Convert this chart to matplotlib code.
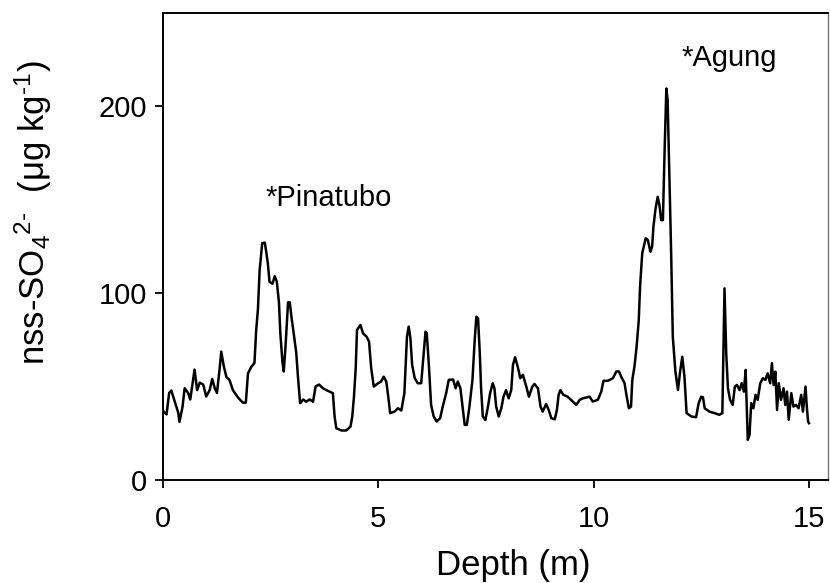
import matplotlib
matplotlib.use("Agg")
import matplotlib.pyplot as plt

plt.rcParams['font.family'] = ['Liberation Sans', 'DejaVu Sans']
plt.rcParams['mathtext.fontset'] = 'custom'
plt.rcParams['mathtext.rm'] = 'Liberation Sans'
plt.rcParams['mathtext.it'] = 'Liberation Sans:italic'

# depth (m)
depth = [0.00, 0.02, 0.09, 0.15, 0.20, 0.28, 0.36, 0.39, 0.46, 0.51, 0.59, 0.64, 0.70, 0.74, 0.80,
         0.86, 0.94, 1.01, 1.09, 1.15, 1.21, 1.26, 1.32, 1.36, 1.42, 1.48, 1.55, 1.63, 1.75, 1.86,
         1.93, 1.98, 2.06, 2.13, 2.17, 2.21, 2.25, 2.31, 2.37, 2.41, 2.44, 2.48, 2.55, 2.60, 2.65,
         2.70, 2.73, 2.78, 2.81, 2.85, 2.91, 2.95, 2.99, 3.04, 3.10, 3.14, 3.19, 3.26, 3.33, 3.41,
         3.49, 3.55, 3.63, 3.72, 3.80, 3.95, 3.99, 4.03, 4.15, 4.26, 4.36, 4.40, 4.44, 4.48, 4.51,
         4.59, 4.65, 4.73, 4.79, 4.84, 4.90, 5.00, 5.07, 5.13, 5.19, 5.23, 5.28, 5.38, 5.46, 5.54,
         5.61, 5.67, 5.71, 5.75, 5.79, 5.85, 5.92, 6.00, 6.06, 6.10, 6.13, 6.18, 6.23, 6.29, 6.36,
         6.44, 6.50, 6.58, 6.64, 6.74, 6.80, 6.85, 6.91, 6.97, 7.01, 7.06, 7.12, 7.19, 7.24, 7.28,
         7.32, 7.36, 7.39, 7.43, 7.49, 7.55, 7.60, 7.66, 7.70, 7.74, 7.80, 7.86, 7.91, 7.97, 8.03,
         8.09, 8.13, 8.18, 8.24, 8.30, 8.36, 8.44, 8.50, 8.58, 8.63, 8.71, 8.77, 8.82, 8.90, 8.96,
         9.02, 9.10, 9.15, 9.19, 9.23, 9.30, 9.40, 9.52, 9.60, 9.68, 9.75, 9.91, 9.98, 10.10, 10.18,
         10.23, 10.33, 10.45, 10.53, 10.59, 10.64, 10.72, 10.77, 10.82, 10.87, 10.90, 10.95, 11.00,
         11.05, 11.08, 11.13, 11.21, 11.26, 11.32, 11.36, 11.39, 11.44, 11.49, 11.53, 11.57, 11.61,
         11.65, 11.69, 11.72, 11.76, 11.80, 11.84, 11.90, 11.96, 12.01, 12.06, 12.11, 12.16, 12.27,
         12.38, 12.44, 12.50, 12.54, 12.58, 12.69, 12.81, 12.92, 12.99, 13.02, 13.04, 13.08, 13.12,
         13.17, 13.23, 13.28, 13.33, 13.39, 13.44, 13.49, 13.53, 13.56, 13.58, 13.62, 13.66, 13.71,
         13.76, 13.81, 13.87, 13.93, 13.99, 14.04, 14.10, 14.14, 14.18, 14.22, 14.26, 14.30, 14.35,
         14.41, 14.45, 14.49, 14.53, 14.59, 14.64, 14.70, 14.76, 14.82, 14.86, 14.92, 14.95, 14.98,
         15.00]

# nss-SO4 2- (ug/kg)
so4 = [38, 36.5, 35, 46.5, 47.8, 41.9, 36, 31, 39, 49, 46.5, 43, 52.6, 59, 48,
       52, 51, 44.6, 48, 54, 49, 46.5, 59, 68.6, 60.6, 55, 53.5, 48, 44, 41.3,
       41.3, 57, 60.6, 62.5, 80, 91, 112, 126.7, 127, 121, 116, 106, 105, 109, 106,
       94.6, 78.6, 63, 58, 71, 95, 95, 87, 78.6, 68, 55, 41, 43, 41.8, 43,
       41.8, 50, 51, 49, 48, 46.4, 33.9, 27.6, 26.4, 26.4, 28.5, 33.9, 44.5, 59.7, 80.2,
       82.9, 78.4, 76.7, 74, 59.7, 49.9, 51.7, 52.6, 55.2, 52.6, 45.5, 35.7, 36.5, 38.3, 37.1,
       46.4, 76.7, 82, 75.8, 61.5, 54.4, 51.7, 51.7, 68.6, 79.3, 78.4, 60.6, 40.1, 33.9, 31.2,
       33, 39.2, 46.4, 53.5, 53.7, 49, 52.6, 49, 37.4, 29.4, 29.4, 39.2, 53.5, 74, 87.3,
       86.4, 67.8, 49, 33.9, 32, 39.2, 46.4, 51.7, 49, 39.2, 33.9, 38.3, 44.5, 48, 43.6,
       48, 61.5, 65.6, 60.6, 54.4, 56.2, 49.9, 44.5, 49.9, 51.3, 49, 39.2, 36.5, 40.6, 37.4,
       33, 32.4, 37.4, 45.5, 48, 45.5, 44.5, 41.9, 40.1, 42.8, 43.6, 44.5, 41.9, 42.8, 47.2,
       53, 53, 54.4, 58, 58, 55.3, 51.7, 44.5, 38.3, 39.2, 53.5, 60.6, 71.3,
       85.6, 103.4, 121.2, 129.3, 128.4, 122.1, 124.8, 135.5, 145.3, 151.5, 147, 139, 139,
       176.5, 209.5, 203.2, 164, 123, 76.6, 58, 48.1, 58, 65.9, 55.3, 35.7, 33.9,
       33.5, 41, 44.5, 44.2, 38.3, 36.5, 35.7, 34.8, 35.7, 76.6, 102.5, 67.7, 49,
       42.8, 40.1, 49.9, 50.8, 48, 51.7, 47.2, 58.8, 35.7, 21.4, 24, 41, 38.3,
       45.5, 42.8, 51.7, 54.4, 53.5, 57, 51.7, 62.4, 50.8, 57.9, 37.4, 51.7, 42.8,
       49, 40.1, 47.2, 32.1, 46.4, 39.2, 40.1, 38.3, 45.5, 36.5, 49.9, 39.2, 31.2,
       30.3]

x_ticks = [0, 5, 10, 15]
y_ticks = [0, 100, 200]

fig = plt.figure(figsize=(8.3, 5.83), dpi=100)
ax = fig.add_axes([0.196, 0.177, 0.802, 0.801])

ax.plot(depth, so4, color='black', linewidth=1.8)

ax.set_xlim(0, 15.45)
ax.set_ylim(0, 250)
ax.set_xticks(x_ticks)
ax.set_yticks(y_ticks)
ax.tick_params(axis='both', direction='out', length=6, width=1.3, labelsize=21)
ax.tick_params(axis='y', pad=5)
ax.tick_params(axis='x', pad=12)
ax.tick_params(top=False, right=False)

for side in ['left', 'bottom', 'top']:
    ax.spines[side].set_linewidth(1.4)
ax.spines['right'].set_linewidth(1.0)
ax.spines['right'].set_color('#777777')

ax.set_xlabel('Depth (m)', fontsize=25)
ax.set_ylabel(r'nss-SO$_4$$^{2\text{-}}$  (μg kg$^{\text{-1}}$)', fontsize=25)
ax.xaxis.set_label_coords(0.526, -0.148)
ax.yaxis.set_label_coords(-0.163, 0.571)

ax.text(2.39, 151, '*Pinatubo', fontsize=21, va='center', ha='left')
ax.text(12.05, 226, '*Agung', fontsize=21, va='center', ha='left')

fig.savefig('out.png', dpi=100)
